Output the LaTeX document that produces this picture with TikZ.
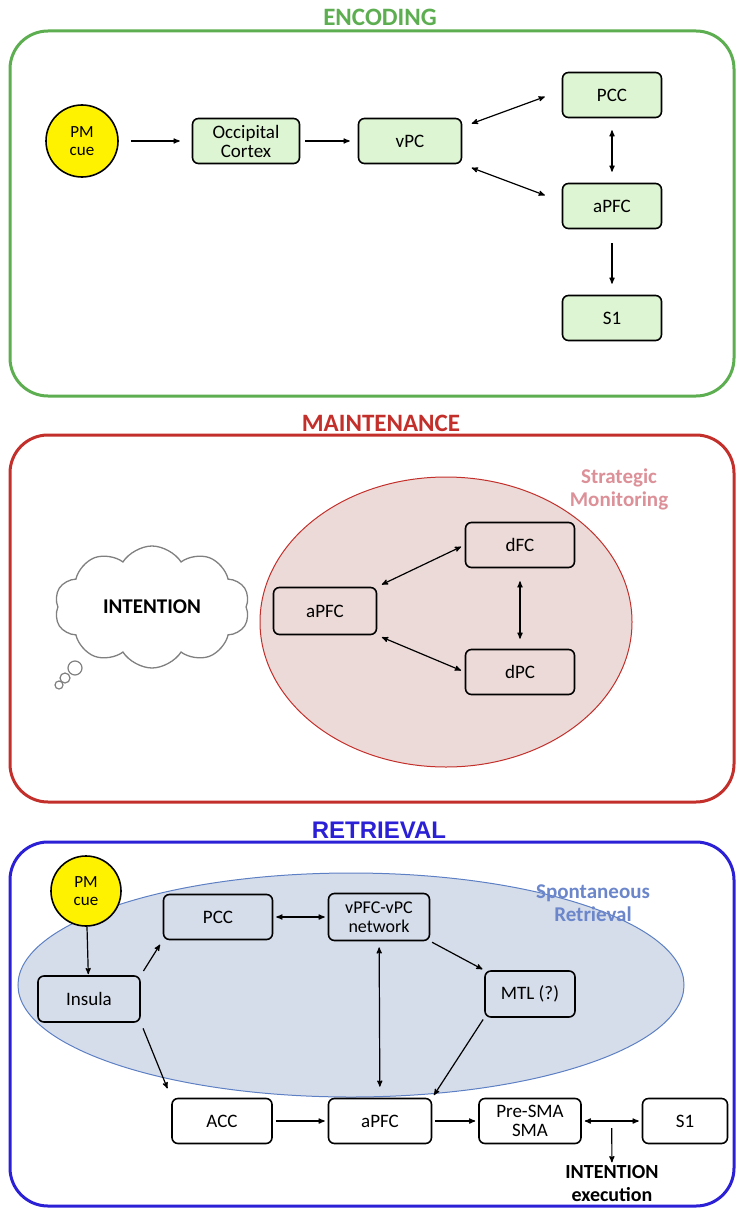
\documentclass[tikz,border=0pt]{standalone}
\usepackage{fontspec}
\setmainfont{Carlito}
\newfontfamily\arialfont{Liberation Sans}
\usetikzlibrary{arrows,shapes.symbols,positioning,calc}
\definecolor{encgreen}{HTML}{5DAE50}
\definecolor{boxgreen}{HTML}{DDF5D2}
\definecolor{mainred}{HTML}{C3302B}
\definecolor{monfill}{HTML}{EBDAD7}
\definecolor{montext}{HTML}{DC9098}
\definecolor{retblue}{HTML}{2B20D5}
\definecolor{spfill}{HTML}{D6DDEA}
\definecolor{spline}{HTML}{5D80C4}
\definecolor{sptext}{HTML}{6B86CA}
\tikzset{>=stealth',
  area/.style={line width=3pt,rounded corners=38pt},
  region/.style={draw,rounded corners=6pt,line width=1.6pt,minimum width=103pt,minimum height=45pt,
    inner sep=2pt,align=center,font=\fontsize{19}{19}\selectfont},
  cue/.style={circle,draw,line width=1.6pt,fill=yellow,minimum size=72pt,inner sep=0pt,
    align=center,font=\fontsize{17}{18}\selectfont},
  title/.style={font=\fontsize{25}{28}\selectfont\bfseries},
  note/.style={align=center,font=\fontsize{21}{23}\selectfont\bfseries},
  link/.style={<->,line width=1.2pt,shorten >=5pt,shorten <=5pt},
  feed/.style={->,line width=1.2pt,shorten >=5pt,shorten <=5pt}
}
\begin{document}
\begin{tikzpicture}[x=1pt,y=-1pt]
\useasboundingbox (0,0) rectangle (738,1209);

% encoding
\node[title,text=encgreen] (enc) at (380,17) {ENCODING};
\draw[area,draw=encgreen] (10,31) rectangle (734,396);
\node[cue] (cue1) at (82,141) {PM\\cue};
\node[region,fill=boxgreen,minimum width=107pt] (occ) at (246,141) {Occipital\\Cortex};
\node[region,fill=boxgreen] (vpc) at (410,141) {vPC};
\node[region,fill=boxgreen,minimum width=99pt] (pcc1) at (612,95) {PCC};
\node[region,fill=boxgreen,minimum width=99pt] (apfc1) [below of=pcc1,node distance=111pt] {aPFC};
\node[region,fill=boxgreen,minimum width=99pt] (s1a) [below of=apfc1,node distance=112pt] {S1};

\path
(cue1) edge[feed,shorten <=12pt,shorten >=12pt] (occ)
(occ) edge[feed,shorten >=8pt] (vpc)
(vpc.15) edge[link,shorten <=10pt,shorten >=18pt] (pcc1.175)
(vpc.south east) edge[link,shorten <=10pt,shorten >=18pt] (apfc1.175)
(pcc1) edge[link,shorten <=12pt,shorten >=11pt] (apfc1)
(apfc1) edge[feed,shorten <=14pt,shorten >=11pt] (s1a)
;

% maintenance
\node[title,text=mainred] (maint) at (381,423) {MAINTENANCE};
\draw[area,draw=mainred] (10,435) rectangle (734,802);
\draw[mainred,fill=monfill,line width=1pt] (446,622) ellipse [x radius=186,y radius=145];
\node[note,text=montext] (strat) at (619,489) {Strategic\\Monitoring};
\node[cloud,draw=gray,line width=1.3pt,cloud puffs=10,cloud puff arc=115,aspect=1.6,
  minimum width=195pt,minimum height=122pt,font=\fontsize{21}{23}\selectfont\bfseries] (idea) at (152,607) {INTENTION};
\draw[gray,line width=1.2pt] (75,668) circle (7) (65,678) circle (5) (59,685) circle (4);
\node[region,minimum width=109pt] (dfc) at (520,545) {dFC};
\node[region,minimum height=47pt] (apfc2) at (325,611) {aPFC};
\node[region,minimum width=109pt] (dpc) [below of=dfc,node distance=127pt] {dPC};

\path
(apfc2.north east) edge[link,shorten >=4pt] (dfc.west)
(apfc2.south east) edge[link,shorten >=4pt] (dpc.west)
(dfc) edge[link,shorten <=13pt,shorten >=10pt] (dpc)
;

% retrieval
\node[title,text=retblue,font=\fontsize{24}{28}\selectfont\bfseries\arialfont] (retr) at (379,830) {RETRIEVAL};
\draw[area,draw=retblue] (10,842) rectangle (734,1206);
\draw[spline,fill=spfill,line width=1pt] (351,985) ellipse [x radius=333,y radius=112];
\node[note,text=sptext] (spont) at (593,903) {Spontaneous\\Retrieval};
\node[cue,minimum size=70pt] (cue2) at (86,891) {PM\\cue};
\node[region,minimum width=109pt] (pcc2) at (218,917) {PCC};
\node[region,minimum width=101pt,minimum height=47pt,font=\fontsize{18}{19}\selectfont] (net) at (379,917) {vPFC-vPC\\network};
\node[region,minimum width=102pt,minimum height=46pt] (insula) at (89,999) {Insula};
\node[region,minimum width=90pt,minimum height=46pt] (mtl) at (530,994) {MTL (?)};
\node[region,minimum width=100pt] (acc) at (222,1121) {ACC};
\node[region] (apfc3) at (380,1121) {aPFC};
\node[region,minimum width=102pt] (sma) at (530,1121) {Pre-SMA\\SMA};
\node[region,minimum width=85pt] (s1b) at (685,1121) {S1};
\node[note,font=\fontsize{20}{23}\selectfont\bfseries] (exec) at (612,1184) {INTENTION\\execution};
\coordinate (split) at ($(sma.east)!0.5!(s1b.west)$);

\path
(cue2) edge[feed,shorten <=0pt,shorten >=1pt] (insula)
(insula.north east) edge[feed] (pcc2.south west)
(insula.south east) edge[feed,shorten <=6pt,shorten >=10pt] (acc.north west)
(pcc2) edge[link,shorten <=3pt,shorten >=3pt] (net)
(net) edge[link,shorten <=6pt,shorten >=11pt] (apfc3)
(net.south east) edge[feed,shorten <=2pt,shorten >=2pt] (mtl.north west)
(mtl.south west) edge[feed,shorten <=2pt,shorten >=3pt] (apfc3.north east)
(acc) edge[feed,shorten <=3pt,shorten >=3pt] (apfc3)
(apfc3) edge[feed,shorten <=3pt,shorten >=3pt] (sma)
(sma) edge[link,shorten <=3pt,shorten >=3pt] (s1b)
(split) edge[feed,shorten <=7pt,shorten >=0pt] (exec)
;
\end{tikzpicture}
\end{document}
